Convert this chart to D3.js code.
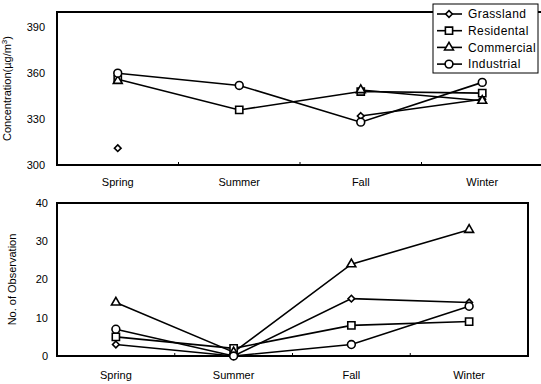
<!DOCTYPE html>
<html>
<head>
<meta charset="utf-8">
<script src="https://cdn.jsdelivr.net/npm/d3@7"></script>
<style>
  html, body { margin: 0; padding: 0; background: #fff; }
  svg { display: block; font-family: "Liberation Sans", Arial, sans-serif; }
</style>
</head>
<body>
<svg id="chart" width="541" height="384"></svg>
<script>
// Seasons on the shared category axis
const seasons = ["Spring", "Summer", "Fall", "Winter"];
const seriesNames = ["Grassland", "Residental", "Commercial", "Industrial"];

// Mean concentration (µg/m³); null = no observation that season
const concGrassland  = [311, null, 332, 343];
const concResidental = [356, 336, 348, 347];
const concCommercial = [355, null, 349, 342];
const concIndustrial = [360, 352, 328, 354];

// Number of observations per season
const obsGrassland  = [3, 0, 15, 14];
const obsResidental = [5, 2, 8, 9];
const obsCommercial = [14, 1, 24, 33];
const obsIndustrial = [7, 0, 3, 13];

const concTicks = [300, 330, 360, 390];
const obsTicks = [0, 10, 20, 30, 40];

const markers = ["diamond", "square", "triangle", "circle"];

// compact, square-proportioned diamond
const symbolSmallDiamond = {
  draw(ctx, size) {
    const r = Math.sqrt(size / 2);
    ctx.moveTo(0, -r); ctx.lineTo(r, 0); ctx.lineTo(0, r); ctx.lineTo(-r, 0); ctx.closePath();
  }
};

const svg = d3.select("#chart");

function marker(g, type, x, y) {
  let sym;
  if (type === "circle") sym = d3.symbol(d3.symbolCircle, 48);
  else if (type === "square") sym = d3.symbol(d3.symbolSquare, 52);
  else if (type === "triangle") sym = d3.symbol(d3.symbolTriangle, 34);
  else sym = d3.symbol(symbolSmallDiamond, 22);
  g.append("path")
    .attr("d", sym())
    .attr("transform", `translate(${x},${y})`)
    .attr("fill", "#fff")
    .attr("stroke", "#000")
    .attr("stroke-width", 1.6);
}

function panel(opts) {
  const { left, right, top, bottom, domain, ticks, series, yTitle, titleX, tickX, labelY } = opts;
  const x = d3.scalePoint().domain(seasons).range([left, right]).padding(0.5);
  const y = d3.scaleLinear().domain(domain).range([bottom, top]);
  const g = svg.append("g");

  // frame
  g.append("rect")
    .attr("x", left).attr("y", top)
    .attr("width", right - left).attr("height", bottom - top)
    .attr("fill", "none").attr("stroke", "#000").attr("stroke-width", 2);

  // small inward ticks between seasons on the bottom edge
  const step = x.step();
  seasons.slice(1).forEach(s => {
    const bx = x(s) - step / 2;
    g.append("line")
      .attr("x1", bx).attr("x2", bx)
      .attr("y1", bottom).attr("y2", bottom - 3)
      .attr("stroke", "#000").attr("stroke-width", 1);
  });

  // y tick labels
  g.selectAll(".ytick").data(ticks).enter().append("text")
    .attr("x", tickX).attr("y", d => y(d))
    .attr("dy", "0.35em")
    .attr("text-anchor", "end")
    .attr("font-size", 11)
    .text(d => d);

  // season labels
  g.selectAll(".xtick").data(seasons).enter().append("text")
    .attr("x", d => x(d)).attr("y", labelY)
    .attr("text-anchor", "middle")
    .attr("font-size", 11)
    .text(d => d);

  // y axis title
  const t = g.append("text")
    .attr("transform", `translate(${titleX},${(top + bottom) / 2}) rotate(-90)`)
    .attr("text-anchor", "middle")
    .attr("font-size", 11);
  yTitle(t);

  // lines; gaps (null) break the line
  const line = d3.line()
    .defined(d => d.v !== null)
    .x(d => x(d.s)).y(d => y(d.v));
  series.forEach(vals => {
    const pts = seasons.map((s, j) => ({ s, v: vals[j] }));
    g.append("path")
      .attr("d", line(pts))
      .attr("fill", "none").attr("stroke", "#000").attr("stroke-width", 1.6);
  });
  series.forEach((vals, i) => {
    seasons.forEach((s, j) => {
      if (vals[j] !== null) marker(g, markers[i], x(s), y(vals[j]));
    });
  });
  return g;
}

panel({
  left: 57, right: 543, top: 12, bottom: 165,
  domain: [300, 400], ticks: concTicks,
  series: [concGrassland, concResidental, concCommercial, concIndustrial],
  titleX: 11, tickX: 45, labelY: 186,
  yTitle: t => {
    t.append("tspan").text("Concentration(µg/m");
    t.append("tspan").attr("dy", -4).attr("font-size", 8).text("3");
    t.append("tspan").attr("dy", 4).text(")");
  }
});

panel({
  left: 57, right: 528, top: 203, bottom: 356,
  domain: [0, 40], ticks: obsTicks,
  series: [obsGrassland, obsResidental, obsCommercial, obsIndustrial],
  titleX: 16, tickX: 48, labelY: 379,
  yTitle: t => t.text("No. of Observation")
});

// legend
const lg = svg.append("g");
lg.append("rect")
  .attr("x", 433).attr("y", 4).attr("width", 105).attr("height", 69)
  .attr("fill", "#fff").attr("stroke", "#000").attr("stroke-width", 1);
seriesNames.forEach((name, i) => {
  const ly = 14 + i * 16.7;
  lg.append("line")
    .attr("x1", 437).attr("x2", 462).attr("y1", ly).attr("y2", ly)
    .attr("stroke", "#000").attr("stroke-width", 1.6);
  marker(lg, markers[i], 449, ly);
  lg.append("text")
    .attr("x", 468).attr("y", ly).attr("dy", "0.35em")
    .attr("font-size", 12)
    .attr("letter-spacing", 0.4)
    .text(name);
});
</script>
</body>
</html>
